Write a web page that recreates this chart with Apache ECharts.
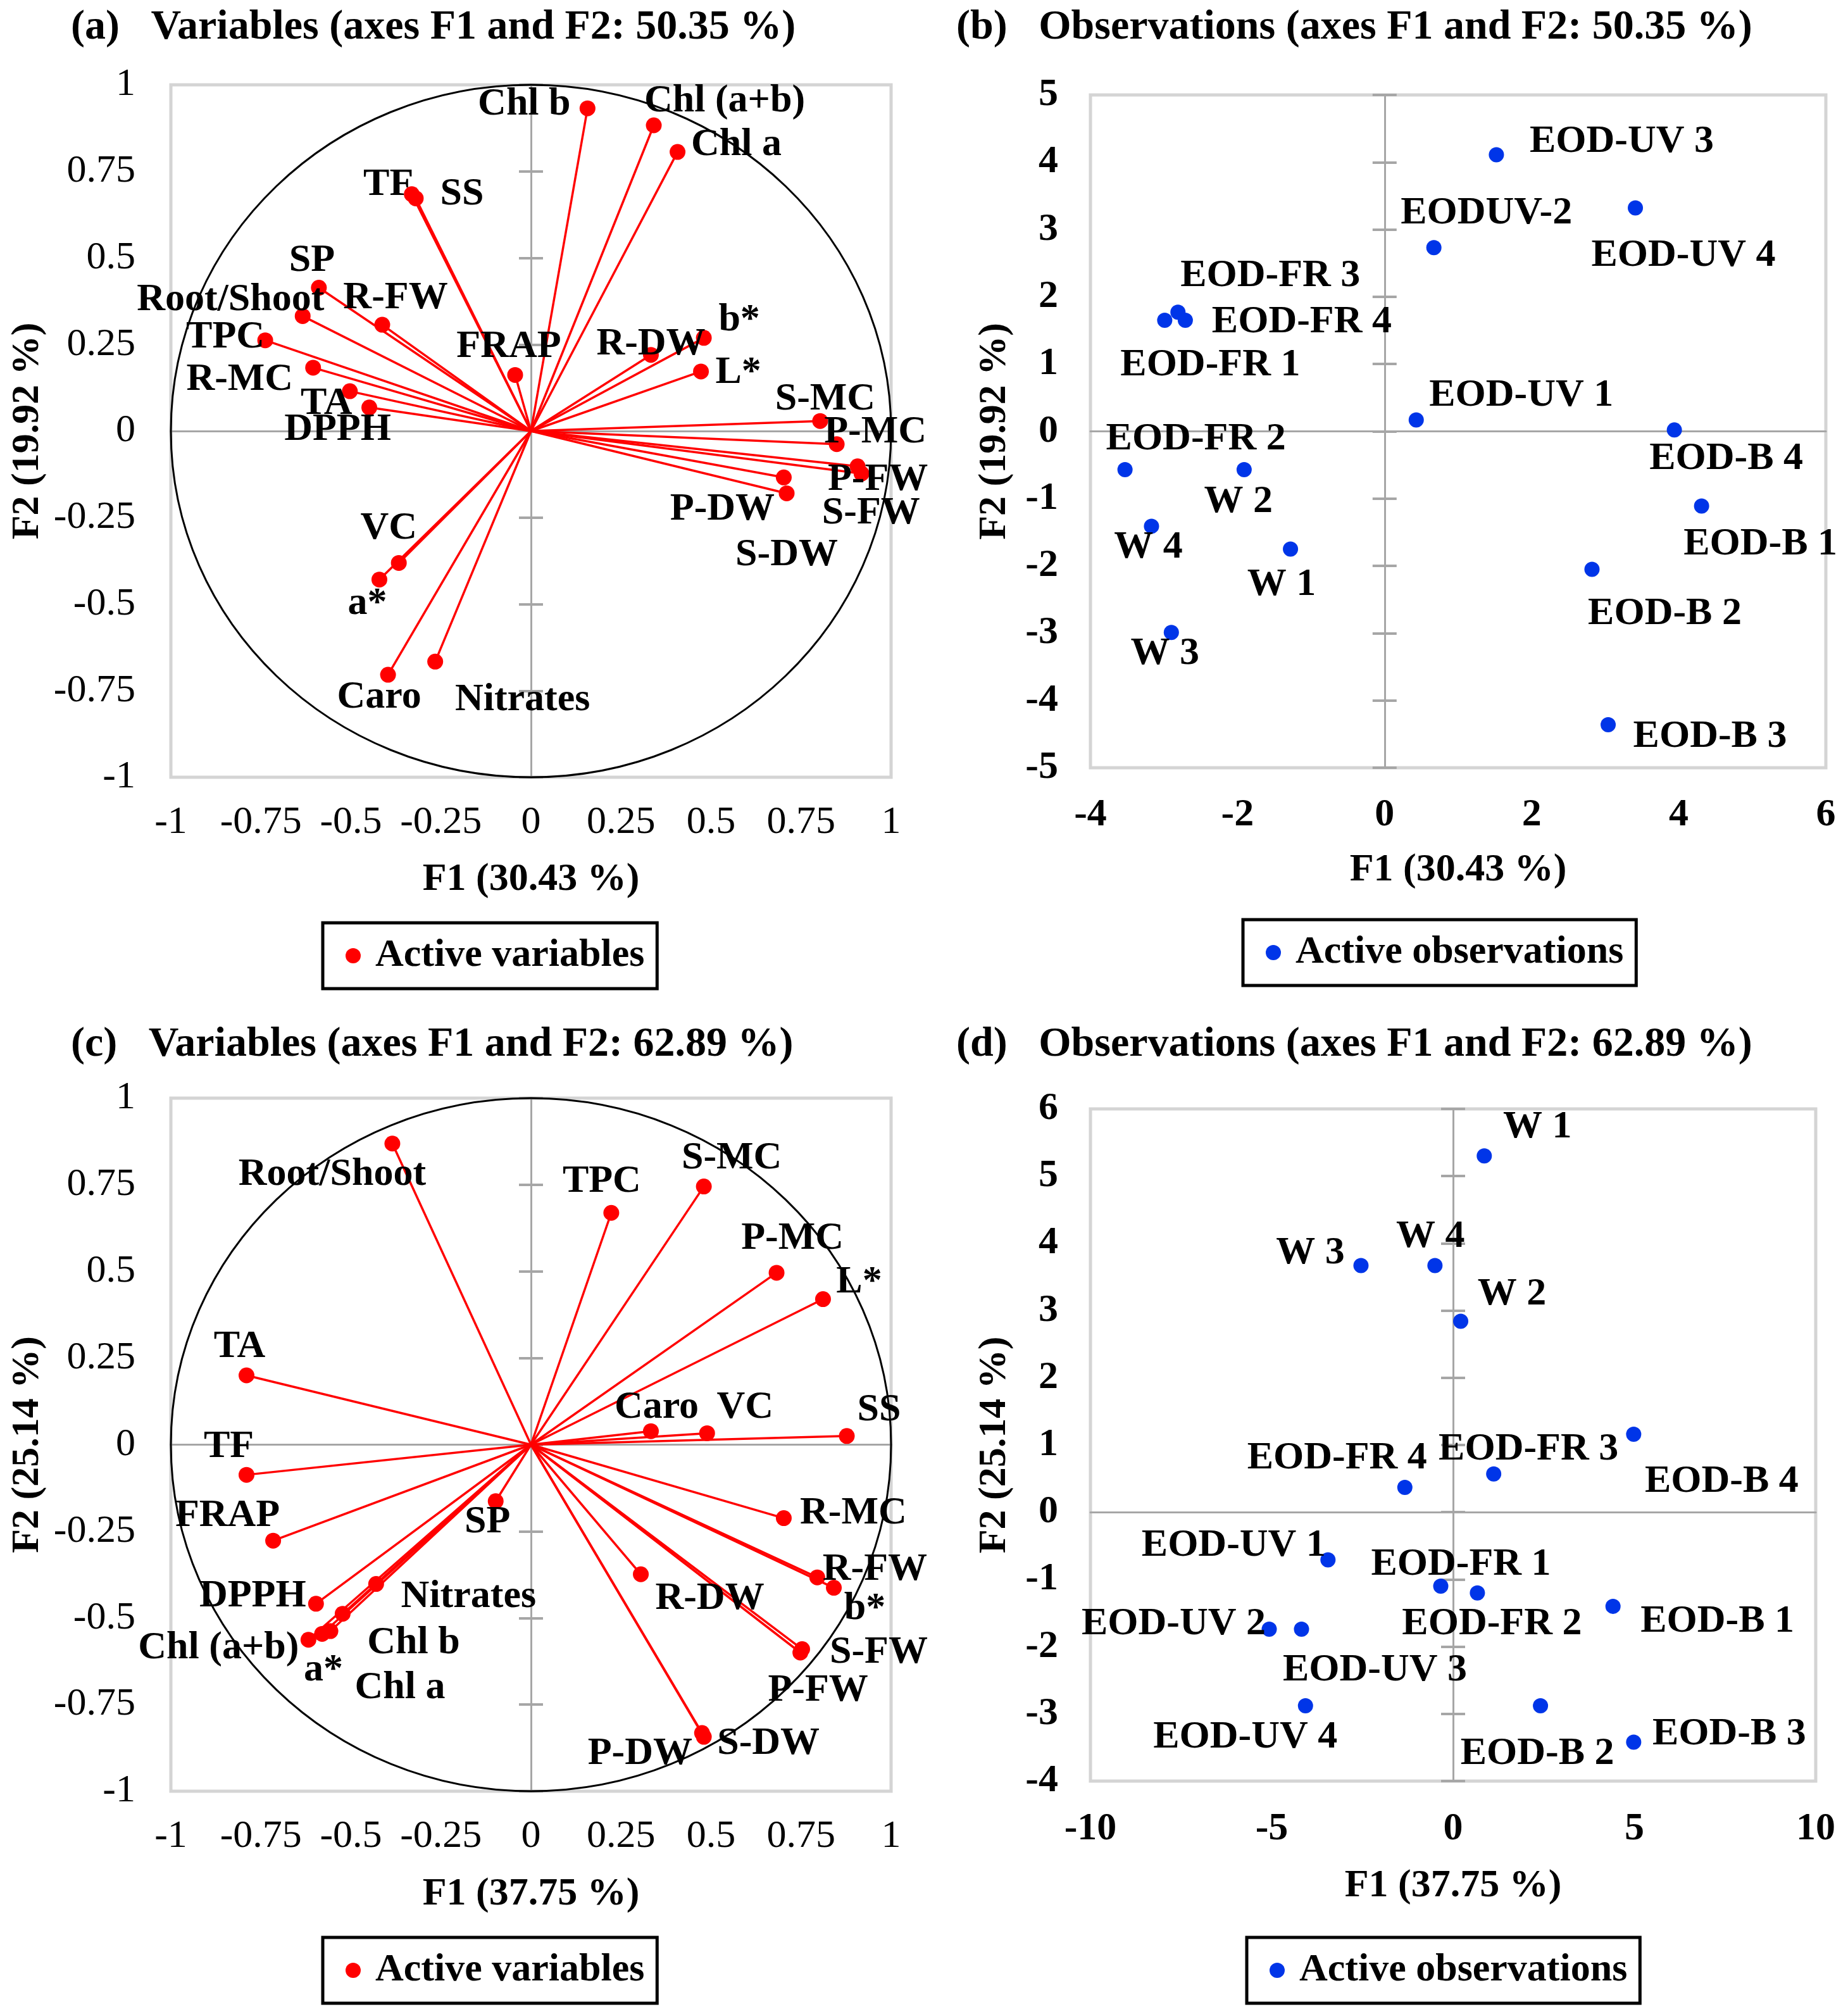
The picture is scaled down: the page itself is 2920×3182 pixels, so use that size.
<!DOCTYPE html>
<html><head><meta charset="utf-8">
<script src="https://cdn.jsdelivr.net/npm/echarts@6/dist/echarts.min.js"></script>
<style>html,body{margin:0;padding:0;background:#fff}#chart{width:2920px;height:3182px}</style>
</head><body><div id="chart"></div>
<script>
// ---------- DATA ----------
// (a) Variables, PCA 1 (F1 30.43 %, F2 19.92 %)
const varNamesA = ['Chl b','Chl (a+b)','Chl a','TF','SS','SP','Root/Shoot','R-FW','TPC','R-MC','TA','DPPH','FRAP','R-DW','b*','L*','S-MC','P-MC','P-FW','S-FW','P-DW','S-DW','VC','a*','Caro','Nitrates'];
const f1A = [0.157,0.341,0.407,-0.331,-0.320,-0.589,-0.634,-0.413,-0.738,-0.605,-0.503,-0.449,-0.044,0.333,0.480,0.472,0.803,0.849,0.907,0.918,0.702,0.710,-0.367,-0.421,-0.397,-0.266];
const f2A = [0.932,0.883,0.806,0.684,0.672,0.414,0.332,0.307,0.262,0.183,0.115,0.068,0.162,0.220,0.269,0.172,0.029,-0.038,-0.102,-0.123,-0.134,-0.180,-0.381,-0.429,-0.704,-0.666];

// (b) Observations, PCA 1
const obsNamesB = ['EOD-UV 3','EOD-UV 4','EODUV-2','EOD-FR 3','EOD-FR 4','EOD-FR 1','EOD-UV 1','EOD-B 4','EOD-FR 2','W 2','W 4','W 1','W 3','EOD-B 1','EOD-B 2','EOD-B 3'];
const f1B = [1.52,3.41,0.67,-2.81,-2.71,-2.99,0.43,3.94,-3.53,-1.91,-3.17,-1.28,-2.90,4.31,2.82,3.04];
const f2B = [4.11,3.32,2.73,1.77,1.65,1.65,0.17,0.02,-0.57,-0.57,-1.41,-1.75,-2.99,-1.11,-2.05,-4.36];

// (c) Variables, PCA 2 (F1 37.75 %, F2 25.14 %)
const varNamesC = ['Root/Shoot','TPC','S-MC','P-MC','L*','TA','Caro','VC','SS','TF','FRAP','DPPH','SP','Nitrates','Chl b','Chl (a+b)','a*','Chl a','R-MC','R-FW','b*','R-DW','S-FW','P-FW','P-DW','S-DW'];
const f1C = [-0.385,0.223,0.480,0.682,0.811,-0.790,0.333,0.489,0.877,-0.790,-0.716,-0.597,-0.098,-0.430,-0.523,-0.618,-0.580,-0.557,0.702,0.795,0.841,0.305,0.753,0.748,0.475,0.480];
const f2C = [0.869,0.669,0.745,0.496,0.420,0.200,0.039,0.033,0.025,-0.087,-0.277,-0.459,-0.163,-0.402,-0.488,-0.563,-0.546,-0.538,-0.212,-0.383,-0.413,-0.374,-0.590,-0.600,-0.832,-0.843];

// (d) Observations, PCA 2
const obsNamesD = ['W 1','W 3','W 4','W 2','EOD-B 4','EOD-FR 3','EOD-FR 4','EOD-UV 1','EOD-FR 1','EOD-FR 2','EOD-B 1','EOD-UV 2','EOD-UV 3','EOD-UV 4','EOD-B 2','EOD-B 3'];
const f1D = [0.86,-2.54,-0.50,0.21,4.98,1.12,-1.33,-3.45,-0.34,0.67,4.41,-5.07,-4.18,-4.07,2.41,4.98];
const f2D = [5.30,3.67,3.67,2.84,1.16,0.57,0.37,-0.71,-1.10,-1.20,-1.40,-1.74,-1.74,-2.88,-2.88,-3.42];

const titles = ['(a)   Variables (axes F1 and F2: 50.35 %)','(b)   Observations (axes F1 and F2: 50.35 %)','(c)   Variables (axes F1 and F2: 62.89 %)','(d)   Observations (axes F1 and F2: 62.89 %)'];
const xNames = ['F1 (30.43 %)','F1 (30.43 %)','F1 (37.75 %)','F1 (37.75 %)'];
const yNames = ['F2 (19.92 %)','F2 (19.92 %)','F2 (25.14 %)','F2 (25.14 %)'];

// ---------- LAYOUT (label placement, px offsets from each point) ----------
const offA = {'Chl b':[-100,-6],'Chl (a+b)':[112,-38],'Chl a':[93,-11],'TF':[-37,-15],'SS':[73,-6],'SP':[-11,-43],'Root/Shoot':[-114,-25],'R-FW':[21,-42],'TPC':[-63,-5],'R-MC':[-116,19],'TA':[-37,20],'DPPH':[-50,35],'FRAP':[-10,-44],'R-DW':[0,-17],'b*':[56,-28],'L*':[59,2],'S-MC':[8,-34],'P-MC':[61,-19],'P-FW':[32,21],'S-FW':[15,63],'P-DW':[-97,51],'S-DW':[0,98],'VC':[-16,-54],'a*':[-19,38],'Caro':[-14,36],'Nitrates':[138,61]};
const offB = {'EOD-UV 3':[198,-21],'EOD-UV 4':[76,75],'EODUV-2':[83,-54],'EOD-FR 3':[146,-57],'EOD-FR 4':[184,3],'EOD-FR 1':[72,71],'EOD-UV 1':[166,-38],'EOD-B 4':[82,46],'EOD-FR 2':[112,-48],'W 2':[-9,51],'W 4':[-5,34],'W 1':[-14,56],'W 3':[-10,34],'EOD-B 1':[93,60],'EOD-B 2':[115,71],'EOD-B 3':[161,19]};
const offC = {'Root/Shoot':[-95,49],'TPC':[-15,-49],'S-MC':[44,-45],'P-MC':[25,-54],'L*':[57,-27],'TA':[-11,-45],'Caro':[9,-37],'VC':[60,-40],'SS':[51,-41],'TF':[-28,-44],'FRAP':[-72,-39],'DPPH':[-100,-12],'SP':[-13,33],'Nitrates':[146,20],'Chl b':[112,46],'Chl (a+b)':[-142,13],'a*':[2,58],'Chl a':[110,90],'R-MC':[110,-8],'R-FW':[91,-12],'b*':[49,33],'R-DW':[109,39],'S-FW':[121,5],'P-FW':[28,60],'P-DW':[-98,33],'S-DW':[102,11]};
const offD = {'W 1':[84,-45],'W 3':[-80,-19],'W 4':[-7,-45],'W 2':[81,-43],'EOD-B 4':[139,75],'EOD-FR 3':[55,-39],'EOD-FR 4':[-107,-46],'EOD-UV 1':[-149,-23],'EOD-FR 1':[32,-34],'EOD-FR 2':[23,49],'EOD-B 1':[165,24],'EOD-UV 2':[-151,-8],'EOD-UV 3':[116,65],'EOD-UV 4':[-95,50],'EOD-B 2':[-5,76],'EOD-B 3':[151,-12]};

const FONT = '"Times New Roman", "Liberation Serif", serif';
const RED = '#ff0000', BLUE = '#0035e8', AXC = '#a6a6a6';

const panels = [
  {grid:{left:270,top:134,width:1138,height:1094}, x:[-1,1,0.25], y:[-1,1,0.25], xm:41, ym:56, xg:131, yg:195, bold:'normal', title:[112,10], legend:[510,1458]},
  {grid:{left:1723,top:150,width:1162,height:1063}, x:[-4,6,2], y:[-5,5,1], xm:44, ym:51, xg:131, yg:120, bold:'bold', title:[1511,10], legend:[1964,1453]},
  {grid:{left:270,top:1735,width:1138,height:1095}, x:[-1,1,0.25], y:[-1,1,0.25], xm:41, ym:56, xg:132, yg:195, bold:'normal', title:[112,1617], legend:[510,3061]},
  {grid:{left:1723,top:1752,width:1146,height:1062}, x:[-10,10,5], y:[-4,6,1], xm:45, ym:51, xg:135, yg:120, bold:'bold', title:[1511,1617], legend:[1970,3061]}
];

const grid = [], xAxis = [], yAxis = [], title = [], legend = [];
panels.forEach((p, g) => {
  grid.push(Object.assign({show:true, borderColor:'#d4d4d4', borderWidth:5, backgroundColor:'#fff'}, p.grid));
  title.push({text: titles[g], left: p.title[0], top: p.title[1], padding:0,
    textStyle:{fontFamily:FONT, fontWeight:'bold', fontSize:66, color:'#000', lineHeight:68}});
  xAxis.push({gridIndex:g, type:'value', position:'bottom', min:p.x[0], max:p.x[1], interval:p.x[2],
    axisLine:{show:false, onZero:false}, axisTick:{show:false}, splitLine:{show:false},
    axisLabel:{margin:p.xm, fontFamily:FONT, fontSize:62, fontWeight:p.bold, color:'#000'},
    name:xNames[g], nameLocation:'middle', nameGap:p.xg,
    nameTextStyle:{fontFamily:FONT, fontSize:62, fontWeight:'bold', color:'#000'}});
  xAxis.push({gridIndex:g, type:'value', position:'bottom', min:p.x[0], max:p.x[1], interval:p.x[2],
    axisLine:{show:true, onZero:true, onZeroAxisIndex:3*g, lineStyle:{color:AXC, width:3}},
    axisTick:{show:false}, axisLabel:{show:false}, splitLine:{show:false}});
  yAxis.push({gridIndex:g, type:'value', position:'left', min:p.y[0], max:p.y[1], interval:p.y[2],
    axisLine:{show:false, onZero:false}, axisTick:{show:false}, splitLine:{show:false},
    axisLabel:{margin:p.ym, fontFamily:FONT, fontSize:62, fontWeight:p.bold, color:'#000'},
    name:yNames[g], nameLocation:'middle', nameGap:p.yg, nameRotate:90,
    nameTextStyle:{fontFamily:FONT, fontSize:62, fontWeight:'bold', color:'#000'}});
  [false, true].forEach(inside => {
    yAxis.push({gridIndex:g, type:'value', position:'left', min:p.y[0], max:p.y[1], interval:p.y[2],
      axisLine:{show:true, onZero:true, onZeroAxisIndex:2*g, lineStyle:{color:AXC, width:3}},
      axisTick:{show:true, inside:inside, length:19, lineStyle:{color:AXC, width:4}},
      axisLabel:{show:false}, splitLine:{show:false}});
  });
  const legName = (g % 2 === 0) ? 'Active variables' : 'Active observations';
  legend.push({left:p.legend[0], top:p.legend[1], data:[legName], selectedMode:false,
    borderColor:'#000', borderWidth:5, padding:[20,20,20,36], itemWidth:24, itemHeight:24, icon:'circle',
    textStyle:{fontFamily:FONT, fontSize:62, fontWeight:'bold', color:'#000', lineHeight:64, padding:[0,0,0,18]}});
});

function circleSeries(g) {
  return {type:'custom', name:'circle'+g, xAxisIndex:2*g, yAxisIndex:3*g, silent:true, z:1,
    data:[[0,0]], encode:{x:0,y:1},
    renderItem:(params, api) => {
      const c = api.coord([0,0]); const s = api.size([1,1]);
      return {type:'ellipse', shape:{cx:c[0], cy:c[1], rx:s[0], ry:s[1]},
        style:{fill:'none', stroke:'#000', lineWidth:3}};
    }};
}
function vectorSeries(g, xs, ys) {
  return {type:'custom', name:'vectors'+g, xAxisIndex:2*g, yAxisIndex:3*g, silent:true, z:2,
    data: xs.map((v,i) => [v, ys[i]]), encode:{x:0,y:1},
    renderItem:(params, api) => {
      const o = api.coord([0,0]); const p = api.coord([api.value(0), api.value(1)]);
      return {type:'line', shape:{x1:o[0], y1:o[1], x2:p[0], y2:p[1]},
        style:{stroke:RED, lineWidth:3.5}};
    }};
}
function pointSeries(g, name, names, xs, ys, offs, color, size) {
  return {type:'scatter', name:name, xAxisIndex:2*g, yAxisIndex:3*g, z:3,
    symbol:'circle', symbolSize:size, itemStyle:{color:color, opacity:1},
    data: names.map((n,i) => ({name:n, value:[xs[i], ys[i]]})),
    label:{show:true, position:'inside', formatter:'{b}', fontFamily:FONT, fontSize:62, fontWeight:'bold',
      color:'#000', textBorderWidth:0, textBorderColor:'transparent'},
    labelLayout:(params) => {
      const o = offs[names[params.dataIndex]] || [0,0];
      return {dx:o[0], dy:o[1], hideOverlap:false};
    }};
}

const series = [
  circleSeries(0), vectorSeries(0, f1A, f2A), pointSeries(0, 'Active variables', varNamesA, f1A, f2A, offA, RED, 25),
  pointSeries(1, 'Active observations', obsNamesB, f1B, f2B, offB, BLUE, 24),
  circleSeries(2), vectorSeries(2, f1C, f2C), pointSeries(2, 'Active variables', varNamesC, f1C, f2C, offC, RED, 25),
  pointSeries(3, 'Active observations', obsNamesD, f1D, f2D, offD, BLUE, 24)
];

const chart = echarts.init(document.getElementById('chart'), null, {renderer:'canvas'});
chart.setOption({backgroundColor:'#fff', animation:false, title, grid, xAxis, yAxis, legend, series});
</script></body></html>
